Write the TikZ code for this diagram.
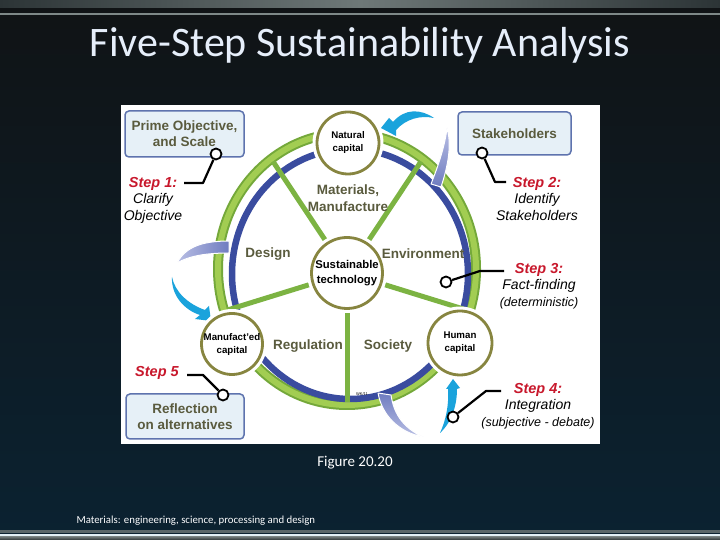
\documentclass[tikz,border=0pt]{standalone}
\usepackage{fontspec}
\setmainfont{Liberation Sans}
\newfontfamily\slidefont{Carlito}
\usepackage{xcolor}
\usepackage{tikz}
\usetikzlibrary{calc}
\definecolor{slidetop}{HTML}{101315}
\definecolor{slidebot}{HTML}{0B2231}
\definecolor{stripedark}{HTML}{2C3436}
\definecolor{stripemid}{HTML}{6E7878}
\definecolor{stripeline}{HTML}{7E8888}
\definecolor{stripebright}{HTML}{E2F0F6}
\definecolor{titletext}{HTML}{E6EEFA}
\definecolor{ringgreen}{HTML}{74A83A}
\definecolor{ringlight}{HTML}{A2CD52}
\definecolor{spokegreen}{HTML}{7CB342}
\definecolor{ringblue}{HTML}{3A4C9F}
\definecolor{capolive}{HTML}{878540}
\definecolor{sectortext}{HTML}{5A5B3E}
\definecolor{boxfill}{HTML}{E6F0F7}
\definecolor{boxline}{HTML}{5E73AE}
\definecolor{stepred}{HTML}{C8182C}
\definecolor{sweepcyan}{HTML}{1AA3DC}
\definecolor{sweeplilac}{HTML}{6F7CC0}
\definecolor{sweeppale}{HTML}{B8BEE4}
\tikzset{
every picture/.style={line cap=round,line join=round},
green ring/.style={draw=ringgreen, line width=10pt},
green ring inner/.style={draw=ringlight, line width=6pt},
blue ring/.style={draw=ringblue, line width=6.5pt},
spoke/.style={draw=spokegreen, line width=5pt, line cap=butt},
cap node/.style={
  circle,
  draw=capolive,
  line width=2.8pt,
  fill=white,
  inner sep=0pt,
  align=center,
  font=\bfseries\fontsize{9.7}{13}\selectfont,
  preaction={draw=white, line width=9pt}
},
hub node/.style={cap node, minimum size=71pt, font=\bfseries\fontsize{11.3}{15}\selectfont},
sector label/.style={font=\bfseries\fontsize{13.5}{17}\selectfont, text=sectortext, align=center},
goal box/.style={
  draw=boxline,
  fill=boxfill,
  line width=1.5pt,
  rounded corners=4pt,
  align=center,
  inner sep=2pt,
  font=\bfseries\fontsize{13.5}{16}\selectfont,
  text=sectortext
},
step text/.style={font=\itshape\fontsize{14}{16.5}\selectfont, align=center, text=black},
step head/.style={text=stepred, font=\bfseries\itshape\fontsize{14.5}{16.5}\selectfont},
pin/.style={circle, draw=black, line width=1.8pt, fill=white, minimum size=11pt, inner sep=0pt},
pin line/.style={draw=black, line width=2.2pt, line cap=butt},
cycle arrow/.style={fill=sweepcyan},
fade sweep/.style={draw=white, line width=1pt},
slide text/.style={font=\slidefont, text=titletext}
}

\begin{document}
\begin{tikzpicture}[x=1pt,y=1pt]
\useasboundingbox (0,0) rectangle (720,540);
\shade[top color=slidetop, bottom color=slidebot] (0,0) rectangle (720,540);
\shade[left color=stripedark, right color=stripedark, middle color=stripemid] (0,532) rectangle (720,540);
\fill[stripeline] (0,524.7) rectangle (720,526.7);
\fill[stripemid!80!slidebot] (0,7) rectangle (720,10);
\fill[stripebright] (0,4.3) rectangle (720,6.1);
\shade[top color=stripemid, bottom color=stripedark] (0,0) rectangle (720,3.3);

\node[slide text, font=\slidefont\fontsize{42}{46}\selectfont] (title) at (360,495) {Five-Step Sustainability Analysis};

\fill[white] (121,96) rectangle (600,435);

\coordinate (ringc) at (347,271);
\coordinate (bluec) at (350,266);
\coordinate (hubc) at (347,267);
\draw[green ring] (ringc) ellipse[x radius=129, y radius=136];
\draw[green ring inner] (ringc) ellipse[x radius=129, y radius=136];
\draw[blue ring] (bluec) ellipse[x radius=118, y radius=125];
\foreach \ang in {54,126,198,270,342}
  \draw[spoke] (hubc) -- ($(ringc)+(\ang:126 and 133)$);

\shade[top color=sweeppale, bottom color=sweeplilac, fade sweep] (447,412) .. controls (452,395) and (448,374) .. (441,353) -- (431,356) .. controls (439,376) and (445,395) .. (447,412) -- cycle;
\shade[left color=sweeppale, right color=sweeplilac, fade sweep] (177,277) .. controls (185,292) and (200,299) .. (229,299) -- (229,287) .. controls (206,287) and (189,284) .. (177,277) -- cycle;
\shade[top color=sweeplilac, bottom color=sweeppale, fade sweep] (378,147) .. controls (382,125) and (398,108) .. (423,103) .. controls (404,112) and (394,125) .. (391,145) -- cycle;

\fill[cycle arrow] (381,412) -- (389,422) -- (393,418) .. controls (405,432) and (421,431) .. (434,422) .. controls (420,425) and (406,421) .. (396,410) -- (396,404) -- cycle;
\fill[cycle arrow] (172,263) .. controls (175,248) and (188,236) .. (205,230) -- (209,234) -- (211,219) -- (195,221) -- (200,225) .. controls (184,230) and (171,245) .. (172,263) -- cycle;
\fill[cycle arrow] (453,161) -- (460,152) -- (457,151) .. controls (457,135) and (452,118) .. (440,107) .. controls (446,120) and (449,135) .. (448,151) -- (446,151) -- cycle;

\node[cap node, minimum size=62pt] (natural) at (348,397) {Natural\\capital};
\node[cap node, minimum size=61pt] (manufactured) at (232,196) {Manufact'ed\\capital};
\node[cap node, minimum size=64pt] (human) at (460,197) {Human\\capital};
\node[hub node] (hub) at (hubc) {Sustainable\\technology};

\node[sector label] (materials) at (348,341.5) {Materials,\\Manufacture};
\node[sector label] (design) at (268,286) {Design};
\node[sector label] (environment) at (423,286) {Environment};
\node[sector label] (regulation) at (308,194) {Regulation};
\node[sector label] (society) at (388,194) {Society};
\node[font=\fontsize{4}{4}\selectfont] (wknote) at (362,146) {WK/11};

\node[goal box, minimum width=119pt, minimum height=46pt] (prime) at (184.5,406) {Prime Objective,\\and Scale};
\node[goal box, minimum width=113pt, minimum height=43pt] (stakeholders) at (514.5,406.5) {Stakeholders};
\node[goal box, minimum width=118pt, minimum height=45pt] (reflection) at (185,123.5) {Reflection\\on alternatives};

\node[step text] (step1) at (153,340) {{\fontsize{14.5}{16.5}\selectfont\bfseries\color{stepred}Step 1:}\\Clarify\\Objective};
\node[step text] (step2) at (537,341) {{\fontsize{14.5}{16.5}\selectfont\bfseries\color{stepred}Step 2:}\\Identify\\Stakeholders};
\node[step text] (step3) at (539,254) {{\fontsize{14.5}{16.5}\selectfont\bfseries\color{stepred}Step 3:}\\Fact-finding\\{\fontsize{12.5}{15}\selectfont(deterministic)}};
\node[step text] (step4) at (538,134) {{\fontsize{14.5}{16.5}\selectfont\bfseries\color{stepred}Step 4:}\\Integration\\{\fontsize{12.5}{15}\selectfont(subjective - debate)}};
\node[step head] (step5) at (157,167) {Step 5};

\coordinate (s1a) at (184,357);
\coordinate (s1b) at (203,357);
\node[pin] (pin1) at (216,386) {};
\draw[pin line] (s1a) -- (s1b) -- (pin1);
\coordinate (s2a) at (506,358);
\coordinate (s2b) at (495,358);
\node[pin] (pin2) at (482,387) {};
\draw[pin line] (s2a) -- (s2b) -- (pin2);
\coordinate (s3a) at (504,269);
\coordinate (s3b) at (480,269);
\node[pin] (pin3) at (446,258) {};
\draw[pin line] (s3a) -- (s3b) -- (pin3);
\coordinate (s4a) at (501,149);
\coordinate (s4b) at (486,149);
\node[pin] (pin4) at (453,123) {};
\draw[pin line] (s4a) -- (s4b) -- (pin4);
\coordinate (s5a) at (187,165);
\coordinate (s5b) at (203,165);
\node[pin] (pin5) at (223,145) {};
\draw[pin line] (s5a) -- (s5b) -- (pin5);

\node[slide text, font=\slidefont\fontsize{15}{18}\selectfont, text=white] (figure) at (355,77) {Figure 20.20};
\node[slide text, font=\slidefont\fontsize{10.8}{12}\selectfont, anchor=base west, text=white!90!titletext] (source) at (73,16) {Materials: engineering, science, processing and design};
\end{tikzpicture}
\end{document}
